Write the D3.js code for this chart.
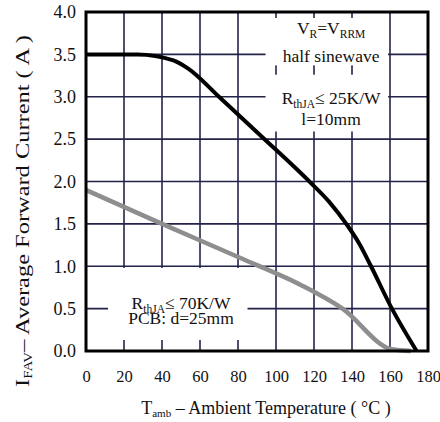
<!DOCTYPE html>
<html>
<head>
<meta charset="utf-8">
<script src="https://cdn.jsdelivr.net/npm/d3@7"></script>
<style>
  body { margin: 0; background: #fff; }
  text { font-family: "Liberation Serif", "DejaVu Serif", serif; fill: #111; }
</style>
</head>
<body>
<div id="container"></div>
<script>
// ambient temperature (°C) vs max average forward current (A)
const tempTicks = [0, 20, 40, 60, 80, 100, 120, 140, 160, 180];
const currentTicks = [0, 0.5, 1.0, 1.5, 2.0, 2.5, 3.0, 3.5, 4.0];

// R_thJA <= 25 K/W, l = 10 mm
const leadTemp = [0, 27, 46, 54, 70, 92, 118, 128, 137, 144, 150, 161, 174];
const leadCurrent = [3.5, 3.5, 3.43, 3.33, 3.0, 2.54, 1.99, 1.76, 1.5, 1.26, 1.0, 0.5, 0];

// R_thJA <= 70 K/W, PCB d = 25 mm
const pcbTemp = [0, 40, 81, 113, 135, 161, 171];
const pcbCurrent = [1.9, 1.5, 1.1, 0.78, 0.5, 0.02, 0];

const W = 440, H = 422;
const m = {left: 86, top: 12, right: 12, bottom: 71};
const iw = W - m.left - m.right, ih = H - m.top - m.bottom;

const svg = d3.select("#container").append("svg")
    .attr("width", W)
    .attr("height", H);

const g = svg.append("g").attr("transform", `translate(${m.left},${m.top})`);

const x = d3.scaleLinear().domain([0, 180]).range([0, iw]);
const y = d3.scaleLinear().domain([0, 4]).range([ih, 0]);

// grid
g.append("g")
    .selectAll("line")
    .data(tempTicks)
    .join("line")
    .attr("x1", d => x(d)).attr("x2", d => x(d))
    .attr("y1", 0).attr("y2", ih)
    .attr("stroke", "#23234a")
    .attr("stroke-width", 1.6);
g.append("g")
    .selectAll("line")
    .data(currentTicks)
    .join("line")
    .attr("y1", d => y(d)).attr("y2", d => y(d))
    .attr("x1", 0).attr("x2", iw)
    .attr("stroke", "#23234a")
    .attr("stroke-width", 1.6);

// white boxes behind the notes
const boxes = [
    [94.5, 159, 3.93, 3.37],
    [94.5, 159, 3.26, 2.59],
    [11.6, 85, 0.98, 0.13]
];
g.append("g")
    .selectAll("rect")
    .data(boxes)
    .join("rect")
    .attr("x", d => x(d[0]))
    .attr("width", d => x(d[1]) - x(d[0]))
    .attr("y", d => y(d[2]))
    .attr("height", d => y(d[3]) - y(d[2]))
    .attr("fill", "#fff");

// curves
const line = d3.line().curve(d3.curveMonotoneX);
g.append("path")
    .datum(pcbTemp.map((t, i) => [x(t), y(pcbCurrent[i])]))
    .attr("d", line)
    .attr("fill", "none")
    .attr("stroke", "#8e8e8e")
    .attr("stroke-width", 4.5)
    .attr("stroke-linejoin", "round");
g.append("path")
    .datum(leadTemp.map((t, i) => [x(t), y(leadCurrent[i])]))
    .attr("d", line)
    .attr("fill", "none")
    .attr("stroke", "#000")
    .attr("stroke-width", 4)
    .attr("stroke-linejoin", "round");

// frame
g.append("rect")
    .attr("width", iw)
    .attr("height", ih)
    .attr("fill", "none")
    .attr("stroke", "#000")
    .attr("stroke-width", 3);

// axes (labels only)
const xAxis = g.append("g")
    .attr("transform", `translate(0,${ih})`)
    .call(d3.axisBottom(x).tickValues(tempTicks).tickSize(0).tickPadding(19).tickFormat(d3.format("d")));
const yAxis = g.append("g")
    .call(d3.axisLeft(y).tickValues(currentTicks).tickSize(0).tickPadding(10).tickFormat(d3.format(".1f")));
[xAxis, yAxis].forEach(a => {
    a.select(".domain").remove();
    a.selectAll("text")
        .attr("font-family", "Liberation Serif, serif")
        .attr("fill", "#111");
});
xAxis.selectAll("text").attr("font-size", 16.5);
yAxis.selectAll("text").attr("font-size", 18);

// notes: strings are plain text, {s: ...} is a subscript
function note(tx, ty, parts) {
    const t = g.append("text")
        .attr("x", x(tx)).attr("y", y(ty))
        .attr("text-anchor", "middle")
        .attr("font-size", 17.5);
    let shifted = false;
    parts.forEach(p => {
        if (typeof p === "object") {
            t.append("tspan").attr("font-size", 11.5).attr("dy", 4).text(p.s);
            shifted = true;
        } else {
            t.append("tspan").attr("dy", shifted ? -4 : 0).text(p);
            shifted = false;
        }
    });
    return t;
}
note(129, 3.74, ["V", {s: "R"}, "=V", {s: "RRM"}]);
note(129, 3.41, ["half sinewave"]);
note(129, 2.91, ["R", {s: "thJA"}, "\u2264 25K/W"]);
note(129, 2.67, ["l=10mm"]);
note(50, 0.49, ["R", {s: "thJA"}, "\u2264 70K/W"]);
note(50, 0.32, ["PCB: d=25mm"]);

// axis titles
const xt = svg.append("text")
    .attr("x", 266).attr("y", 414)
    .attr("text-anchor", "middle")
    .attr("font-size", 18);
xt.append("tspan").text("T");
xt.append("tspan").attr("font-size", 11).attr("dy", 3).text("amb");
xt.append("tspan").attr("dy", -3).text(" \u2013 Ambient Temperature ( \u00B0C )");

const yt = svg.append("text")
    .attr("transform", "translate(29,211) rotate(-90)")
    .attr("text-anchor", "middle")
    .attr("font-size", 19.5)
    .attr("textLength", 352)
    .attr("lengthAdjust", "spacingAndGlyphs");
yt.append("tspan").text("I");
yt.append("tspan").attr("font-size", 12).attr("dy", 3).text("FAV");
yt.append("tspan").attr("dy", -3).text("\u2013 Average Forward Current ( A )");
</script>
</body>
</html>
